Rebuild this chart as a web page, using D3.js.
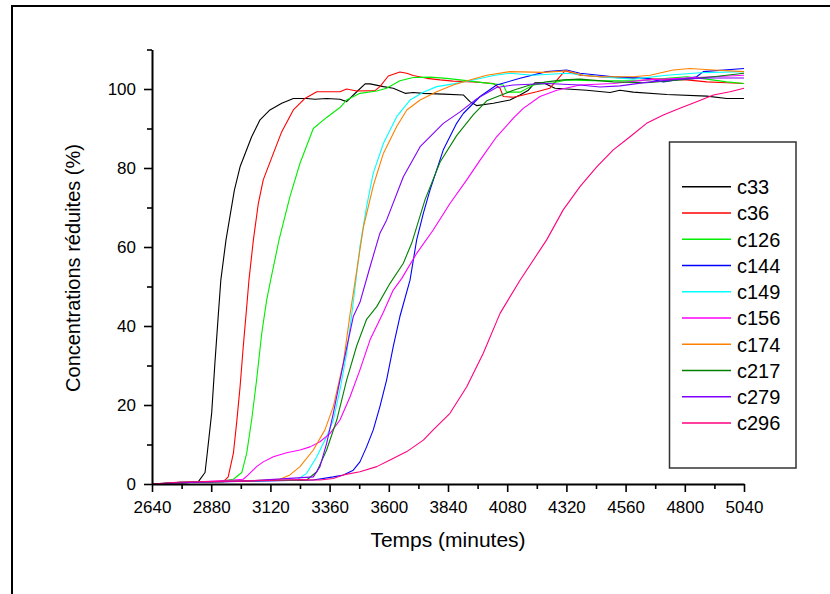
<!DOCTYPE html>
<html>
  <head>
    <meta charset="UTF-8" />
    <style>
      body {
        margin: 0;
        background: #ffffff;
      }
      svg text {
        font-family: "Liberation Sans", Arial, sans-serif;
        fill: #000;
      }
      .axis path,
      .axis line {
        stroke: #000;
      }
    </style>
  </head>
  <body>
    <svg id="chart" width="830" height="594"></svg>

    <script src="https://d3js.org/d3.v7.min.js"></script>
    <script>
      // axis ticks
      const xTicks = [2640, 2880, 3120, 3360, 3600, 3840, 4080, 4320, 4560, 4800, 5040];
      const xMinor = [2760, 3000, 3240, 3480, 3720, 3960, 4200, 4440, 4680, 4920];
      const yTicks = [0, 20, 40, 60, 80, 100];
      const yMinor = [10, 30, 50, 70, 90, 110];

      const seriesNames = ["c33", "c36", "c126", "c144", "c149", "c156", "c174", "c217", "c279", "c296"];
      const seriesColors = ["#000000", "#ff0000", "#00ee00", "#0000ff", "#00ffff", "#ff00ff", "#ff8000", "#008000", "#8000ff", "#ff0080"];

      // [temps (min), concentration (%)]
      const c33 = [[2640,0],[2733,0.2],[2794,0.4],[2828,0.6],[2855,2.9],[2864,7.8],[2882,18],[2895,30.6],[2909,43],[2919,51.6],[2940,61.8],[2974,74.4],[2997,80.3],[3044,87.9],[3078,92.2],[3118,94.7],[3166,96.4],[3213,97.6],[3267,97.6],[3301,97.4],[3348,97.6],[3402,97.4],[3429,96.8],[3470,99.3],[3504,101.3],[3524,101.3],[3578,100.6],[3618,100.2],[3666,98.9],[3699,99.1],[3740,98.9],[3821,98.7],[3902,98.5],[3929,96.8],[3956,95.8],[4024,96.4],[4091,97.2],[4132,98.5],[4166,99.7],[4193,101.6],[4226,101.6],[4274,100.2],[4402,99.7],[4497,99.1],[4537,99.7],[4591,99.2],[4727,98.6],[4889,98.2],[4970,97.6],[5040,97.6]];
      const c36 = [[2640,0],[2754,0.3],[2875,0.6],[2929,0.6],[2949,1.8],[2970,7.8],[2983,15.4],[2997,24.6],[3010,34.8],[3024,44.9],[3033,51.6],[3051,61.8],[3071,71],[3091,77],[3132,83.7],[3166,89.2],[3213,94.7],[3260,97.6],[3308,99.3],[3402,99.3],[3429,100],[3470,99.5],[3544,99.6],[3564,100.6],[3598,103.3],[3645,104.3],[3673,104],[3699,103.4],[3754,102.7],[3808,102.3],[3861,102],[3943,101.8],[4024,101.4],[4051,100.2],[4064,98.1],[4105,97.9],[4145,98.5],[4200,99.3],[4253,100.2],[4314,104.6],[4375,103.5],[4456,103.1],[4591,102.7],[4808,102.3],[4889,101.8],[4970,101.6],[5040,101.4]];
      const c126 = [[2640,0],[2754,0.4],[2916,0.7],[2970,1.2],[3004,2.9],[3024,7.8],[3044,16.2],[3064,26.3],[3085,38.2],[3105,46.6],[3121,51.6],[3155,61.8],[3199,72.7],[3240,81.2],[3294,90],[3348,92.8],[3402,95.3],[3429,97.2],[3483,98.9],[3551,99.5],[3591,100.2],[3645,102.1],[3699,102.9],[3767,103],[3835,102.7],[3889,102.3],[3956,101.8],[4024,101.3],[4064,101],[4078,99.2],[4132,99.2],[4186,101],[4267,101.6],[4321,102.3],[4429,102.1],[4618,102.1],[4727,102.7],[4808,103.1],[4889,102.5],[4970,101.8],[5040,101.4]];
      const c144 = [[2640,0],[2754,0.3],[3037,0.7],[3294,1],[3375,1.8],[3416,2.3],[3456,3.5],[3483,5.6],[3510,9.4],[3537,13.7],[3564,19.6],[3591,26.3],[3618,34.8],[3645,42.4],[3686,51.6],[3713,61.8],[3740,68.5],[3767,74.4],[3821,84.6],[3875,91.3],[3902,93.8],[3970,98.1],[4037,101],[4132,102.7],[4240,104.4],[4321,104.8],[4375,104],[4510,103.1],[4645,102.7],[4713,101.8],[4848,103.1],[4875,104.4],[5040,105.2]];
      const c149 = [[2640,0],[2754,0.3],[3037,0.8],[3227,1],[3267,2.7],[3308,6.9],[3348,12],[3375,16.2],[3402,23.8],[3429,33],[3456,46],[3483,60.1],[3510,70.2],[3537,78.7],[3578,86.2],[3632,93],[3686,97.2],[3740,99.2],[3794,100.6],[3861,101.3],[3943,102.3],[4024,103.4],[4091,104],[4186,103.5],[4321,104],[4456,103.1],[4591,102.5],[4727,103.5],[4862,104.1],[5040,104.4]];
      const c156 = [[2640,0],[2754,0.3],[2970,1],[3010,1.2],[3030,2.3],[3064,4.4],[3091,5.6],[3132,6.9],[3186,7.9],[3240,8.6],[3281,9.4],[3321,10.7],[3362,12.8],[3402,16.2],[3443,22.1],[3483,28.9],[3524,36.5],[3578,43.5],[3618,49.1],[3652,52],[3713,58.4],[3780,64.3],[3848,71],[3916,77],[3970,82],[4037,87.9],[4105,92.6],[4145,95.1],[4213,98.1],[4281,99.7],[4375,101],[4510,101.4],[4645,102.3],[4780,102.7],[4916,103.1],[5040,103.5]];
      const c174 = [[2640,0],[2754,0.3],[3037,0.8],[3159,1.2],[3199,2.3],[3240,4.4],[3294,8.6],[3341,13.7],[3375,19.6],[3416,30.8],[3443,43],[3470,54],[3497,65],[3537,75.5],[3578,83.7],[3632,90.5],[3673,94.7],[3727,97.2],[3794,99.3],[3861,101],[3929,102.3],[3997,103.5],[4091,104.4],[4226,104.2],[4321,104.6],[4389,103.5],[4456,103.1],[4591,103.1],[4659,103.5],[4753,104.8],[4821,105.2],[4916,104.8],[5040,104.4]];
      const c217 = [[2640,0],[2754,0.4],[3037,0.8],[3267,1],[3308,3.1],[3348,8.6],[3389,16.2],[3429,26.3],[3470,35],[3510,41.7],[3551,44.9],[3605,50.8],[3659,55.9],[3693,61],[3747,72],[3808,81.5],[3875,88.2],[3943,93.5],[3997,97],[4105,99.7],[4172,101],[4240,101.8],[4307,102.3],[4375,102.5],[4510,101.8],[4645,101.6],[4780,102.3],[4916,103.1],[5040,104]];
      const c279 = [[2640,0],[2754,0.3],[3037,0.8],[3294,1.8],[3321,4.4],[3348,10.3],[3375,17.9],[3416,30.6],[3456,42.4],[3483,46],[3524,55],[3564,63.5],[3591,66.8],[3659,77.8],[3727,85.4],[3821,91.3],[3889,94.2],[3956,97.5],[4037,100.4],[4105,101],[4240,101.4],[4375,101],[4456,100.5],[4537,100.8],[4659,101.8],[4780,102.5],[4902,102.8],[5040,102.8]];
      const c296 = [[2640,0],[2754,0.5],[3037,0.8],[3240,1.1],[3321,1],[3375,1.4],[3416,2.3],[3483,3.1],[3551,4.4],[3605,6.1],[3673,8.2],[3740,11.1],[3780,13.7],[3848,17.9],[3916,24.6],[3983,33.1],[4051,43.2],[4132,51.6],[4240,61.8],[4307,69.4],[4375,75.3],[4443,80.3],[4510,84.6],[4578,87.9],[4645,91.3],[4713,93.4],[4780,95.1],[4848,96.8],[4916,98.5],[4983,99.3],[5040,100.2]];

      const seriesData = [c33, c36, c126, c144, c149, c156, c174, c217, c279, c296];
      const series = seriesNames.map((n, i) => ({ name: n, color: seriesColors[i], values: seriesData[i] }));

      const svg = d3.select("#chart");

      // outer frame (only top and left edges fall inside the picture)
      svg
        .append("rect")
        .attr("x", 12)
        .attr("y", 6)
        .attr("width", 840)
        .attr("height", 610)
        .attr("fill", "none")
        .attr("stroke", "#000")
        .attr("stroke-width", 2);

      const x = d3.scaleLinear().domain([2640, 5040]).range([152, 744]);
      const y = d3.scaleLinear().domain([0, 110]).range([484, 49.5]);

      const line = d3
        .line()
        .x((d) => x(d[0]))
        .y((d) => y(d[1]));

      svg
        .append("g")
        .selectAll("path")
        .data(series)
        .enter()
        .append("path")
        .attr("d", (s) => line(s.values))
        .attr("fill", "none")
        .attr("stroke", (s) => s.color)
        .attr("stroke-width", 1.1)
        .attr("stroke-linejoin", "round");

      // x axis
      const xAxis = svg.append("g").attr("class", "axis").attr("transform", "translate(0,484)");
      xAxis.call(d3.axisBottom(x).tickValues(xTicks).tickFormat(d3.format("d")).tickSize(8).tickSizeOuter(0).tickPadding(9));
      xAxis.append("g").call(d3.axisBottom(x).tickValues(xMinor).tickSize(5).tickFormat("")).select(".domain").remove();
      xAxis.select(".domain").attr("stroke-width", 2);
      xAxis.selectAll("line").attr("stroke-width", 1.6);
      xAxis.selectAll("text").style("font-size", "17px");

      // y axis
      const yAxis = svg.append("g").attr("class", "axis").attr("transform", "translate(152,0)");
      yAxis.call(d3.axisLeft(y).tickValues(yTicks).tickFormat(d3.format("d")).tickSize(8).tickSizeOuter(0).tickPadding(8));
      yAxis.append("g").call(d3.axisLeft(y).tickValues(yMinor).tickSize(5).tickFormat("")).select(".domain").remove();
      yAxis.select(".domain").attr("stroke-width", 2);
      yAxis.selectAll("line").attr("stroke-width", 1.6);
      yAxis.selectAll("text").style("font-size", "17px");

      // axis titles
      svg
        .append("text")
        .attr("x", 448)
        .attr("y", 547)
        .attr("text-anchor", "middle")
        .style("font-size", "21px")
        .text("Temps (minutes)");

      svg
        .append("text")
        .attr("transform", "translate(80,268) rotate(-90)")
        .attr("text-anchor", "middle")
        .style("font-size", "20px")
        .text("Concentrations réduites (%)");

      // legend
      const legend = svg.append("g");
      legend
        .append("rect")
        .attr("x", 669.5)
        .attr("y", 142)
        .attr("width", 126.5)
        .attr("height", 326)
        .attr("fill", "#fff")
        .attr("stroke", "#333")
        .attr("stroke-width", 1.5);

      const rows = legend
        .selectAll(".row")
        .data(series)
        .enter()
        .append("g")
        .attr("class", "row")
        .attr("transform", (s, i) => `translate(0,${186.7 + i * 26.26})`);

      rows
        .append("line")
        .attr("x1", 682)
        .attr("x2", 731)
        .attr("stroke", (s) => s.color)
        .attr("stroke-width", 1.4);

      rows
        .append("text")
        .attr("x", 737)
        .attr("y", 7.3)
        .style("font-size", "20px")
        .text((s) => s.name);
    </script>
  </body>
</html>
